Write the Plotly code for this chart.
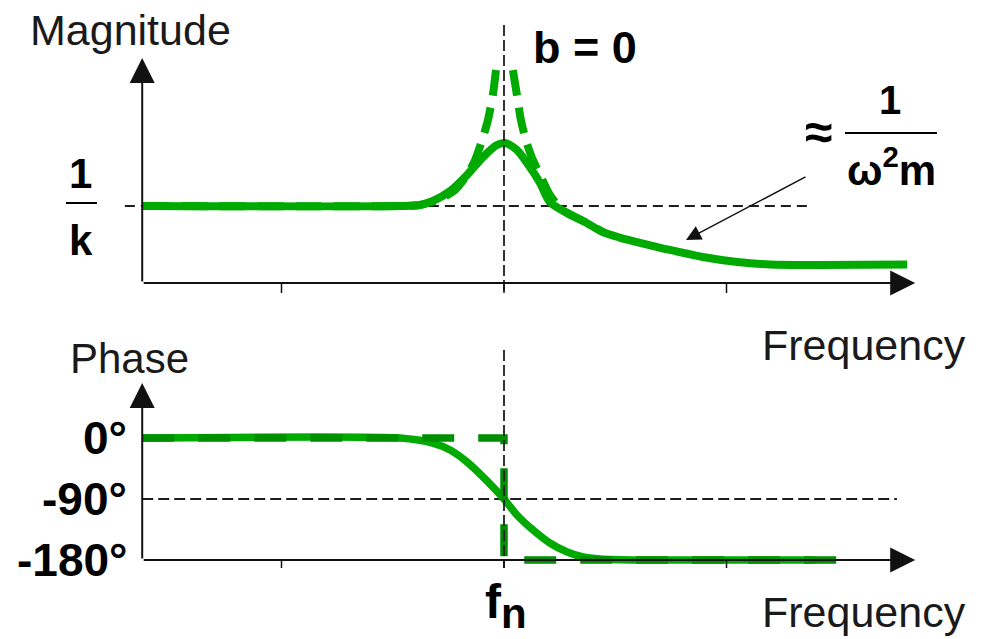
import plotly.graph_objects as go

W, H = 982, 639

# Frequency axis is normalised to the natural frequency (f / fn)
freq_ticks = [0.5, 1.0, 1.5]
fn = 1.0

# Magnitude (in units of 1/k) for the damped system
mag_freq = [0.187, 0.766, 0.811, 0.840, 0.879, 0.917, 0.953, 0.984, 1.002,
            1.029, 1.058, 1.081, 1.103, 1.142, 1.182, 1.222, 1.260, 1.299,
            1.373, 1.447, 1.524, 1.598, 1.710, 1.906]
mag_damped = [1.000, 1.000, 1.013, 1.065, 1.195, 1.403, 1.636, 1.792, 1.818,
              1.727, 1.506, 1.299, 1.052, 0.909, 0.792, 0.662, 0.590, 0.532,
              0.429, 0.338, 0.273, 0.240, 0.234, 0.240]

# Undamped (b = 0) magnitude, each branch listed from the resonance outward
undamped_left_freq = [0.982, 0.975, 0.964, 0.951, 0.935, 0.917, 0.890, 0.856,
                      0.811, 0.766, 0.187]
undamped_left_mag = [2.766, 2.442, 2.117, 1.857, 1.597, 1.403, 1.208, 1.091,
                     1.013, 1.000, 1.000]
undamped_right_freq = [1.020, 1.029, 1.038, 1.049, 1.063, 1.081, 1.103, 1.126,
                       1.142, 1.182, 1.222]
undamped_right_mag = [2.766, 2.442, 2.117, 1.857, 1.623, 1.403, 1.143, 0.974,
                      0.909, 0.792, 0.662]

# Phase in degrees
phase_freq = [0.187, 0.766, 0.840, 0.879, 0.917, 0.953, 1.000, 1.029, 1.065,
              1.103, 1.142, 1.178, 1.216, 1.306, 1.699]
phase_damped = [0, 0, -7.4, -17.7, -35.4, -57.5, -90, -113.6, -135.7, -154.9,
                -168.2, -175.6, -178.5, -180, -180]
undamped_phase_freq = [0.187, 1.0, 1.0, 1.800]
undamped_phase = [0, 0, -180, -180]

phase_labels = {0: "0°", -90: "-90°", -180: "-180°"}

# axis extents
f_origin, f_tip = 0.187, 1.924
mag_tip = 2.922
phase_tip = 81.0

GREEN = "#00aa00"
GREEN_DARK = "#008f00"
INK = "#111111"
REF = "#1e1e1e"


def fx(px):
    return px / W


def fy(py):
    return 1 - py / H


fig = go.Figure()

# reference lines drawn beneath the curves
fig.add_trace(go.Scatter(x=[0.148, 1.694], y=[1, 1], mode="lines",
                         line=dict(color=REF, width=1.8, dash="10px,6px"),
                         xaxis="x", yaxis="y", hoverinfo="skip"))
fig.add_trace(go.Scatter(x=[f_origin, 1.883], y=[-90, -90], mode="lines",
                         line=dict(color=REF, width=1.8, dash="11px,5px"),
                         xaxis="x2", yaxis="y2", hoverinfo="skip"))

# magnitude curves
fig.add_trace(go.Scatter(x=mag_freq, y=mag_damped, mode="lines",
                         line=dict(color=GREEN, width=8, shape="spline", smoothing=0.8),
                         xaxis="x", yaxis="y", hoverinfo="skip"))
for fr, mg in [(undamped_left_freq, undamped_left_mag),
               (undamped_right_freq, undamped_right_mag)]:
    fig.add_trace(go.Scatter(x=fr, y=mg, mode="lines",
                             line=dict(color=GREEN, width=8, dash="26px,12px",
                                       shape="spline", smoothing=0.6),
                             xaxis="x", yaxis="y", hoverinfo="skip"))

# phase curves
fig.add_trace(go.Scatter(x=phase_freq, y=phase_damped, mode="lines",
                         line=dict(color=GREEN, width=7.5, shape="spline", smoothing=0.6),
                         xaxis="x2", yaxis="y2", hoverinfo="skip"))
fig.add_trace(go.Scatter(x=undamped_phase_freq, y=undamped_phase, mode="lines",
                         line=dict(color=GREEN_DARK, width=7.5, dash="32px,24px"),
                         xaxis="x2", yaxis="y2", hoverinfo="skip"))

# vertical markers at fn, drawn over the curves
fig.add_trace(go.Scatter(x=[fn, fn], y=[3.351, -0.13], mode="lines",
                         line=dict(color=REF, width=1.8, dash="11px,4px"),
                         xaxis="x", yaxis="y", hoverinfo="skip"))
fig.add_trace(go.Scatter(x=[fn, fn], y=[129.8, -191.8], mode="lines",
                         line=dict(color=REF, width=1.8, dash="11px,4px"),
                         xaxis="x2", yaxis="y2", hoverinfo="skip"))

# tick marks below the frequency axes
for t in freq_ticks:
    fig.add_trace(go.Scatter(x=[t, t], y=[0, -0.13], mode="lines",
                             line=dict(color=INK, width=1.5),
                             xaxis="x", yaxis="y", hoverinfo="skip"))
    fig.add_trace(go.Scatter(x=[t, t], y=[-180, -191.8], mode="lines",
                             line=dict(color=INK, width=1.5),
                             xaxis="x2", yaxis="y2", hoverinfo="skip"))

annotations = []


def axis_arrow(xr, yr, x0, y0, x1, y1):
    return dict(xref=xr, yref=yr, axref=xr, ayref=yr, x=x1, y=y1, ax=x0, ay=y0,
                text="", showarrow=True, arrowhead=2, arrowsize=2.5,
                arrowwidth=2, arrowcolor=INK, standoff=0)


annotations += [
    axis_arrow("x", "y", f_origin, 0, f_origin, mag_tip),
    axis_arrow("x", "y", f_origin, 0, f_tip, 0),
    axis_arrow("x2", "y2", f_origin, -180, f_origin, phase_tip),
    axis_arrow("x2", "y2", f_origin, -180, f_tip, -180),
]

REG = dict(family="Liberation Sans, Arial, sans-serif", size=43, color="#1a1a1a")
BOLD = dict(family="Liberation Sans, Arial, sans-serif", size=46, color="#000000")


def text(s, x, y, font, xanchor="left", yanchor="middle", xref="paper", yref="paper"):
    return dict(text=s, x=x, y=y, xref=xref, yref=yref, xanchor=xanchor,
                yanchor=yanchor, showarrow=False, font=font)


annotations += [
    text("Magnitude", fx(28), fy(30), REG),
    text("Frequency", fx(760), fy(345), REG),
    text("Phase", fx(68), fy(358), dict(REG, size=42)),
    text("Frequency", fx(760), fy(612), REG),
    text("<b>b = 0</b>", fx(531), fy(48), dict(BOLD, size=45)),
    text("<b>1</b>", fx(80), fy(174), dict(BOLD, size=42), xanchor="center"),
    text("<b>k</b>", fx(81), fy(240), dict(BOLD, size=42), xanchor="center"),
    text("<b>≈</b>", fx(818), fy(132), dict(BOLD, size=50), xanchor="center"),
    text("<b>1</b>", fx(890), fy(100), dict(BOLD, size=40), xanchor="center"),
    text("<b>ω<sup>2</sup>m</b>", fx(891), fy(167), dict(BOLD, size=42), xanchor="center"),
    text('<b>f<sub><span style="font-size:42px">n</span></sub></b>',
         fx(483), 0, dict(BOLD, size=48), yanchor="bottom"),
]
for val, lab in phase_labels.items():
    annotations.append(text(f"<b>{lab}</b>", fx(129), val, BOLD,
                            xanchor="right", yref="y2"))

# pointer to the high-frequency asymptote
annotations.append(dict(x=fx(686), y=fy(240), xref="paper", yref="paper",
                        ax=121, ay=-64, text="", showarrow=True, arrowhead=2,
                        arrowsize=2, arrowwidth=1.5, arrowcolor=INK, standoff=0))

shapes = [
    dict(type="line", xref="paper", yref="paper", x0=fx(66), x1=fx(97),
         y0=fy(203), y1=fy(203), line=dict(color="#000", width=2)),
    dict(type="line", xref="paper", yref="paper", x0=fx(845), x1=fx(937),
         y0=fy(133), y1=fy(133), line=dict(color="#000", width=2)),
]

px_per_unit = 445.0
x_range = [1 - 504 / px_per_unit, 1 + (W - 504) / px_per_unit]
hidden = dict(visible=False, showgrid=False, zeroline=False, fixedrange=True)

fig.update_layout(
    width=W, height=H,
    margin=dict(l=0, r=0, t=0, b=0),
    paper_bgcolor="white", plot_bgcolor="white",
    showlegend=False,
    xaxis=dict(hidden, domain=[0, 1], range=x_range, anchor="y"),
    yaxis=dict(hidden, domain=[0.5, 1], range=[(283 - 319.5) / 77, 283 / 77], anchor="x"),
    xaxis2=dict(hidden, domain=[0, 1], range=x_range, anchor="y2"),
    yaxis2=dict(hidden, domain=[0, 0.5],
                range=[-(639 - 438) * 180 / 122, -(319.5 - 438) * 180 / 122], anchor="x2"),
    annotations=annotations,
    shapes=shapes,
)

fig.write_html("out.html")
